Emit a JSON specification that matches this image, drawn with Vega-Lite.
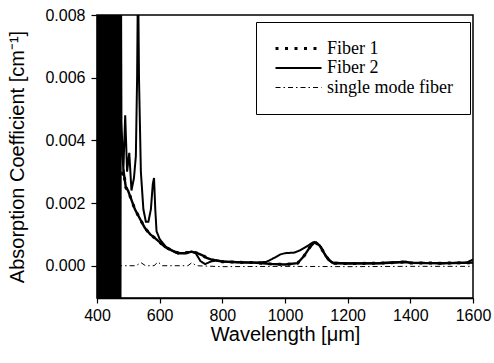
{
  "$schema": "https://vega.github.io/schema/vega-lite/v6.json",
  "width": 376,
  "height": 283,
  "autosize": "none",
  "padding": {"left": 97, "top": 15, "right": 21, "bottom": 65},
  "background": "white",
  "config": {
    "view": {"stroke": "black", "strokeWidth": 1.5},
    "axis": {"domainColor": "black", "domainWidth": 1.5, "tickColor": "black", "tickWidth": 1.2, "grid": false,
      "labelFont": "Liberation Sans", "labelFontSize": 16, "labelColor": "black",
      "titleFont": "Liberation Sans", "titleFontSize": 20, "titleFontWeight": "normal", "titleColor": "black"}
  },
  "data": {"values": [
    {"w":400,"a":-0.0012,"s":"Fiber 2"},{"w":401.5,"a":0.0095,"s":"Fiber 2"},{"w":403,"a":-0.0012,"s":"Fiber 2"},{"w":404.5,"a":0.0095,"s":"Fiber 2"},
    {"w":406,"a":-0.0012,"s":"Fiber 2"},{"w":407.5,"a":0.0095,"s":"Fiber 2"},{"w":409,"a":-0.0012,"s":"Fiber 2"},{"w":410.5,"a":0.0095,"s":"Fiber 2"},
    {"w":412,"a":-0.0012,"s":"Fiber 2"},{"w":413.5,"a":0.0095,"s":"Fiber 2"},{"w":415,"a":-0.0012,"s":"Fiber 2"},{"w":416.5,"a":0.0095,"s":"Fiber 2"},
    {"w":418,"a":-0.0012,"s":"Fiber 2"},{"w":419.5,"a":0.0095,"s":"Fiber 2"},{"w":421,"a":-0.0012,"s":"Fiber 2"},{"w":422.5,"a":0.0095,"s":"Fiber 2"},
    {"w":424,"a":-0.0012,"s":"Fiber 2"},{"w":425.5,"a":0.0095,"s":"Fiber 2"},{"w":427,"a":-0.0012,"s":"Fiber 2"},{"w":428.5,"a":0.0095,"s":"Fiber 2"},
    {"w":430,"a":-0.0012,"s":"Fiber 2"},{"w":431.5,"a":0.0095,"s":"Fiber 2"},{"w":433,"a":-0.0012,"s":"Fiber 2"},{"w":434.5,"a":0.0095,"s":"Fiber 2"},
    {"w":436,"a":-0.0012,"s":"Fiber 2"},{"w":437.5,"a":0.0095,"s":"Fiber 2"},{"w":439,"a":-0.0012,"s":"Fiber 2"},{"w":440.5,"a":0.0095,"s":"Fiber 2"},
    {"w":442,"a":-0.0012,"s":"Fiber 2"},{"w":443.5,"a":0.0095,"s":"Fiber 2"},{"w":445,"a":-0.0012,"s":"Fiber 2"},{"w":446.5,"a":0.0095,"s":"Fiber 2"},
    {"w":448,"a":-0.0012,"s":"Fiber 2"},{"w":449.5,"a":0.0095,"s":"Fiber 2"},{"w":451,"a":-0.0012,"s":"Fiber 2"},{"w":452.5,"a":0.0095,"s":"Fiber 2"},
    {"w":454,"a":-0.0012,"s":"Fiber 2"},{"w":455.5,"a":0.0095,"s":"Fiber 2"},{"w":457,"a":-0.0012,"s":"Fiber 2"},{"w":458.5,"a":0.0095,"s":"Fiber 2"},
    {"w":460,"a":-0.0012,"s":"Fiber 2"},{"w":461.5,"a":0.0095,"s":"Fiber 2"},{"w":463,"a":-0.0012,"s":"Fiber 2"},{"w":464.5,"a":0.0095,"s":"Fiber 2"},
    {"w":466,"a":-0.0012,"s":"Fiber 2"},{"w":467.5,"a":0.0095,"s":"Fiber 2"},{"w":469,"a":-0.0012,"s":"Fiber 2"},{"w":470.5,"a":0.0095,"s":"Fiber 2"},
    {"w":472,"a":-0.0012,"s":"Fiber 2"},{"w":473.5,"a":0.0095,"s":"Fiber 2"},{"w":475,"a":-0.0012,"s":"Fiber 2"},{"w":476.5,"a":0.0095,"s":"Fiber 2"},
    {"w":478,"a":0.0046,"s":"Fiber 2"},{"w":484,"a":0.0030,"s":"Fiber 2"},{"w":490,"a":0.0048,"s":"Fiber 2"},{"w":496,"a":0.0030,"s":"Fiber 2"},
    {"w":503,"a":0.0036,"s":"Fiber 2"},{"w":510,"a":0.0024,"s":"Fiber 2"},{"w":518,"a":0.0028,"s":"Fiber 2"},{"w":524,"a":0.0035,"s":"Fiber 2"},
    {"w":528,"a":0.0060,"s":"Fiber 2"},{"w":531,"a":0.0095,"s":"Fiber 2"},{"w":534,"a":0.0060,"s":"Fiber 2"},{"w":540,"a":0.0030,"s":"Fiber 2"},
    {"w":548,"a":0.0018,"s":"Fiber 2"},{"w":556,"a":0.0014,"s":"Fiber 2"},{"w":564,"a":0.0014,"s":"Fiber 2"},{"w":572,"a":0.0018,"s":"Fiber 2"},
    {"w":578,"a":0.0026,"s":"Fiber 2"},{"w":582,"a":0.0028,"s":"Fiber 2"},{"w":586,"a":0.0018,"s":"Fiber 2"},{"w":590,"a":0.0011,"s":"Fiber 2"},
    {"w":600,"a":0.00085,"s":"Fiber 2"},{"w":620,"a":0.0006,"s":"Fiber 2"},{"w":650,"a":0.00042,"s":"Fiber 2"},{"w":680,"a":0.0004,"s":"Fiber 2"},
    {"w":700,"a":0.00045,"s":"Fiber 2"},{"w":715,"a":0.0004,"s":"Fiber 2"},{"w":730,"a":0.00015,"s":"Fiber 2"},{"w":745,"a":0.00005,"s":"Fiber 2"},
    {"w":760,"a":0.00012,"s":"Fiber 2"},{"w":780,"a":0.00018,"s":"Fiber 2"},{"w":800,"a":0.00014,"s":"Fiber 2"},{"w":850,"a":0.00011,"s":"Fiber 2"},
    {"w":900,"a":0.0001,"s":"Fiber 2"},{"w":940,"a":0.00012,"s":"Fiber 2"},{"w":960,"a":0.00022,"s":"Fiber 2"},{"w":985,"a":0.00036,"s":"Fiber 2"},
    {"w":1000,"a":0.0004,"s":"Fiber 2"},{"w":1030,"a":0.00042,"s":"Fiber 2"},{"w":1050,"a":0.0005,"s":"Fiber 2"},{"w":1070,"a":0.00062,"s":"Fiber 2"},
    {"w":1090,"a":0.00075,"s":"Fiber 2"},{"w":1100,"a":0.00074,"s":"Fiber 2"},{"w":1115,"a":0.0006,"s":"Fiber 2"},{"w":1130,"a":0.0003,"s":"Fiber 2"},
    {"w":1150,"a":0.0001,"s":"Fiber 2"},{"w":1200,"a":0.00008,"s":"Fiber 2"},{"w":1300,"a":0.00008,"s":"Fiber 2"},{"w":1385,"a":0.00013,"s":"Fiber 2"},
    {"w":1400,"a":0.0001,"s":"Fiber 2"},{"w":1500,"a":0.00008,"s":"Fiber 2"},{"w":1580,"a":0.0001,"s":"Fiber 2"},{"w":1600,"a":0.0002,"s":"Fiber 2"},

    {"w":478,"a":0.0029,"s":"Fiber 1"},{"w":485,"a":0.0030,"s":"Fiber 1"},{"w":492,"a":0.0025,"s":"Fiber 1"},{"w":499,"a":0.0024,"s":"Fiber 1"},
    {"w":510,"a":0.0021,"s":"Fiber 1"},{"w":521,"a":0.0018,"s":"Fiber 1"},{"w":537,"a":0.0015,"s":"Fiber 1"},{"w":553,"a":0.0012,"s":"Fiber 1"},
    {"w":570,"a":0.001,"s":"Fiber 1"},{"w":585,"a":0.00088,"s":"Fiber 1"},{"w":600,"a":0.00075,"s":"Fiber 1"},{"w":617,"a":0.0006,"s":"Fiber 1"},
    {"w":640,"a":0.00048,"s":"Fiber 1"},{"w":660,"a":0.0004,"s":"Fiber 1"},{"w":680,"a":0.0004,"s":"Fiber 1"},{"w":703,"a":0.00045,"s":"Fiber 1"},
    {"w":720,"a":0.0004,"s":"Fiber 1"},{"w":735,"a":0.00034,"s":"Fiber 1"},{"w":750,"a":0.00025,"s":"Fiber 1"},{"w":770,"a":0.00018,"s":"Fiber 1"},
    {"w":800,"a":0.00013,"s":"Fiber 1"},{"w":850,"a":0.00011,"s":"Fiber 1"},{"w":900,"a":0.0001,"s":"Fiber 1"},{"w":950,"a":0.00006,"s":"Fiber 1"},
    {"w":1000,"a":0.00004,"s":"Fiber 1"},{"w":1040,"a":0.00008,"s":"Fiber 1"},{"w":1060,"a":0.0003,"s":"Fiber 1"},{"w":1080,"a":0.0006,"s":"Fiber 1"},
    {"w":1095,"a":0.00075,"s":"Fiber 1"},{"w":1110,"a":0.00065,"s":"Fiber 1"},{"w":1125,"a":0.0004,"s":"Fiber 1"},{"w":1140,"a":0.00018,"s":"Fiber 1"},
    {"w":1155,"a":0.00008,"s":"Fiber 1"},{"w":1200,"a":0.00007,"s":"Fiber 1"},{"w":1300,"a":0.00008,"s":"Fiber 1"},{"w":1385,"a":0.00012,"s":"Fiber 1"},
    {"w":1400,"a":0.00009,"s":"Fiber 1"},{"w":1500,"a":0.00008,"s":"Fiber 1"},{"w":1600,"a":0.0001,"s":"Fiber 1"},

    {"w":430,"a":0.0,"s":"single mode fiber"},{"w":432,"a":-0.0006,"s":"single mode fiber"},{"w":436,"a":0.00005,"s":"single mode fiber"},
    {"w":444,"a":0.0001,"s":"single mode fiber"},{"w":452,"a":0.0,"s":"single mode fiber"},{"w":500,"a":0.0,"s":"single mode fiber"},
    {"w":525,"a":0.0,"s":"single mode fiber"},{"w":540,"a":0.0001,"s":"single mode fiber"},{"w":555,"a":0.0,"s":"single mode fiber"},
    {"w":582,"a":0.0,"s":"single mode fiber"},{"w":595,"a":0.00012,"s":"single mode fiber"},{"w":608,"a":0.0,"s":"single mode fiber"},
    {"w":690,"a":0.0,"s":"single mode fiber"},{"w":703,"a":0.0001,"s":"single mode fiber"},{"w":716,"a":0.0,"s":"single mode fiber"},
    {"w":800,"a":-0.00003,"s":"single mode fiber"},{"w":1000,"a":-0.00002,"s":"single mode fiber"},{"w":1200,"a":-0.00003,"s":"single mode fiber"},
    {"w":1400,"a":-0.00002,"s":"single mode fiber"},{"w":1600,"a":-0.00002,"s":"single mode fiber"}
  ]},
  "encoding": {
    "x": {"field": "w", "type": "quantitative",
      "scale": {"domain": [400, 1600], "nice": false, "zero": false},
      "axis": {"values": [400, 600, 800, 1000, 1200, 1400, 1600], "format": "d", "title": "Wavelength [μm]", "tickSize": 5, "labelPadding": 4,
        "titleBaseline": "alphabetic", "titleY": 42, "labelFlush": false}},
    "y": {"field": "a", "type": "quantitative",
      "scale": {"domain": [-0.00103, 0.008], "nice": false, "zero": false},
      "axis": {"values": [0, 0.002, 0.004, 0.006, 0.008], "format": ".3f", "title": "Absorption Coefficient [cm⁻¹]", "tickSize": 6, "labelPadding": 6,
        "titleBaseline": "alphabetic", "titleX": -74, "titleY": 141.5, "titleAngle": -90, "titleAlign": "center"}}
  },
  "layer": [
    {
      "mark": {"type": "line", "clip": true, "color": "black"},
      "encoding": {
        "strokeDash": {"field": "s", "type": "nominal",
          "scale": {"domain": ["Fiber 1", "Fiber 2", "single mode fiber"], "range": [[3, 6.5], [1, 0], [5, 3, 1.5, 3]]},
          "legend": {"title": null, "orient": "none", "legendX": 159, "legendY": 7, "padding": 17, "symbolOffset": 1,
            "strokeColor": "black", "fillColor": "white", "symbolType": "stroke", "symbolSize": 2116, "symbolStrokeColor": "black",
            "labelFont": "Liberation Serif", "labelFontSize": 18, "labelColor": "black", "labelOffset": 4, "rowPadding": 0.5, "clipHeight": 19}},
        "strokeWidth": {"field": "s", "type": "nominal",
          "scale": {"domain": ["Fiber 1", "Fiber 2", "single mode fiber"], "range": [3, 1, 1.2]},
          "legend": null}
      }
    },
    {
      "transform": [{"filter": "datum.s === 'Fiber 1'"}],
      "mark": {"type": "line", "clip": true, "color": "black", "strokeWidth": 2.4}
    }
  ]
}
